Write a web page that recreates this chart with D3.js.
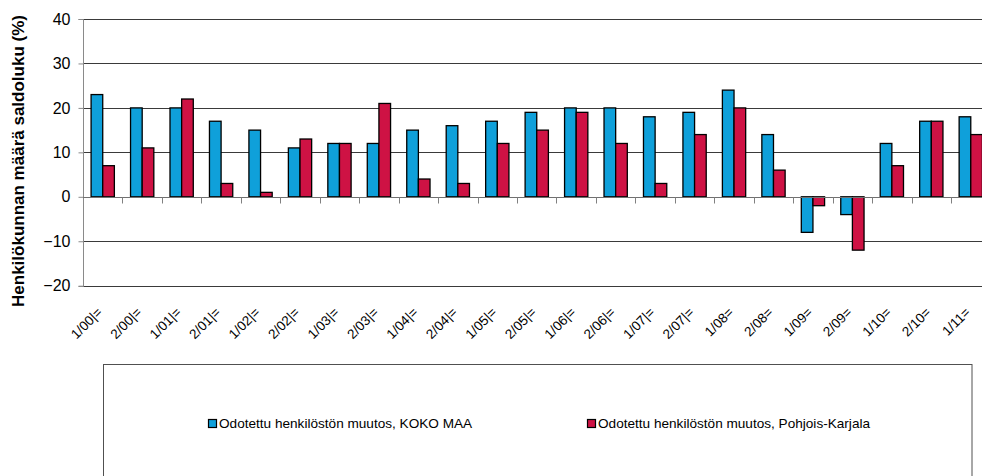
<!DOCTYPE html>
<html><head><meta charset="utf-8">
<script src="https://cdn.jsdelivr.net/npm/d3@7"></script>
<style>
html,body{margin:0;padding:0;background:#fff;overflow:hidden}
svg{display:block;font-family:Arial,"Liberation Sans",sans-serif}
</style></head>
<body>
<svg id="c" width="982" height="476"></svg>
<script>
const categories = ["1/00|=","2/00|=","1/01|=","2/01|=","1/02|=","2/02|=","1/03|=","2/03|=","1/04|=","2/04|=","1/05|=","2/05|=","1/06|=","2/06|=","1/07|=","2/07|=","1/08=","2/08=","1/09=","2/09=","1/10=","2/10=","1/11="];
const kokoMaa = [23,20,20,17,15,11,12,12,15,16,17,19,20,20,18,19,24,14,-8,-4,12,17,18];
const pohjoisKarjala = [7,11,22,3,1,13,12,21,4,3,12,15,19,12,3,14,20,6,-2,-12,7,17,14];
const seriesNames = ["Odotettu henkilöstön muutos, KOKO MAA","Odotettu henkilöstön muutos, Pohjois-Karjala"];
const colors = ["#0FA0DA","#CE1244"];
const yTicks = [-20,-10,0,10,20,30,40];
const yTitle = "Henkilökunnan määrä saldoluku (%)";

(function(){
const svg = d3.select("#c");
const pL = 83, pR = 990.5, pT = 19, pB = 285.7;
const x = d3.scaleBand().domain(categories).range([pL, pR]).paddingInner(0).paddingOuter(0);
const y = d3.scaleLinear().domain([-20, 40]).range([pB, pT]);
const bw = x.bandwidth() * 0.295;

// gridlines
svg.append("g").selectAll("line").data(yTicks.filter(d => d !== 0)).join("line")
  .attr("x1", pL).attr("x2", pR)
  .attr("y1", d => Math.round(y(d)) + 0.5).attr("y2", d => Math.round(y(d)) + 0.5)
  .attr("stroke", "#3a3a3a").attr("stroke-width", 1);

// y axis
const yAxis = svg.append("g").attr("transform", `translate(${pL + 0.5},0)`)
  .call(d3.axisLeft(y).tickValues(yTicks).tickSize(5).tickPadding(8).tickFormat(d3.format("d")));
yAxis.select(".domain").attr("stroke", "#8a8a8a").attr("d", `M-5,${Math.round(pT)+0.5}H0V${Math.round(pB)+0.5}H-5`);
yAxis.selectAll(".tick line").attr("stroke", "#8a8a8a");
yAxis.selectAll("text").attr("font-size", 16).attr("fill", "#000").attr("font-family", "Arial, 'Liberation Sans', sans-serif");

// bars
const g = svg.append("g");
const series = [kokoMaa, pohjoisKarjala];
series.forEach((vals, si) => {
  g.selectAll(null).data(vals).join("rect")
    .attr("x", (d, i) => x(categories[i]) + x.bandwidth() / 2 - bw + si * bw)
    .attr("width", bw)
    .attr("y", d => y(Math.max(0, d)))
    .attr("height", d => Math.abs(y(d) - y(0)))
    .attr("fill", colors[si])
    .attr("stroke", "#000").attr("stroke-width", 1.3);
});

// zero axis
const y0 = Math.round(y(0)) + 0.5;
svg.append("line").attr("x1", pL).attr("x2", pR).attr("y1", y0).attr("y2", y0)
  .attr("stroke", "#707070").attr("stroke-width", 1.2);
svg.append("g").selectAll("line").data(categories.slice(1)).join("line")
  .attr("x1", d => Math.round(x(d)) + 0.5).attr("x2", d => Math.round(x(d)) + 0.5)
  .attr("y1", y0).attr("y2", y0 + 6).attr("stroke", "#808080");

// x labels
svg.append("g").selectAll("text").data(categories).join("text")
  .attr("transform", d => `translate(${x(d) + x.bandwidth() / 2 - 3},${pB + 24}) rotate(-45)`)
  .attr("text-anchor", "end").attr("font-size", 13.5).attr("fill", "#000")
  .attr("dy", "0.35em")
  .text(d => d);

// y title
svg.append("text").attr("transform", `translate(24,${161}) rotate(-90)`)
  .attr("text-anchor", "middle").attr("font-size", 17).attr("font-weight", "bold")
  .text(yTitle);

// legend
svg.append("rect").attr("x", 103.5).attr("y", 364.5).attr("width", 868.5).attr("height", 140)
  .attr("fill", "#fff").attr("stroke", "#505050").attr("stroke-width", 1);
const legX = [208, 587];
seriesNames.forEach((n, i) => {
  svg.append("rect").attr("x", legX[i] + 0.5).attr("y", 419.5).attr("width", 8).attr("height", 8)
    .attr("fill", colors[i]).attr("stroke", "#000").attr("stroke-width", 1.2);
  svg.append("text").attr("x", legX[i] + 11).attr("y", 428).attr("font-size", 13.6)
    .attr("fill", "#000").text(n);
});
})();
</script>
</body></html>
